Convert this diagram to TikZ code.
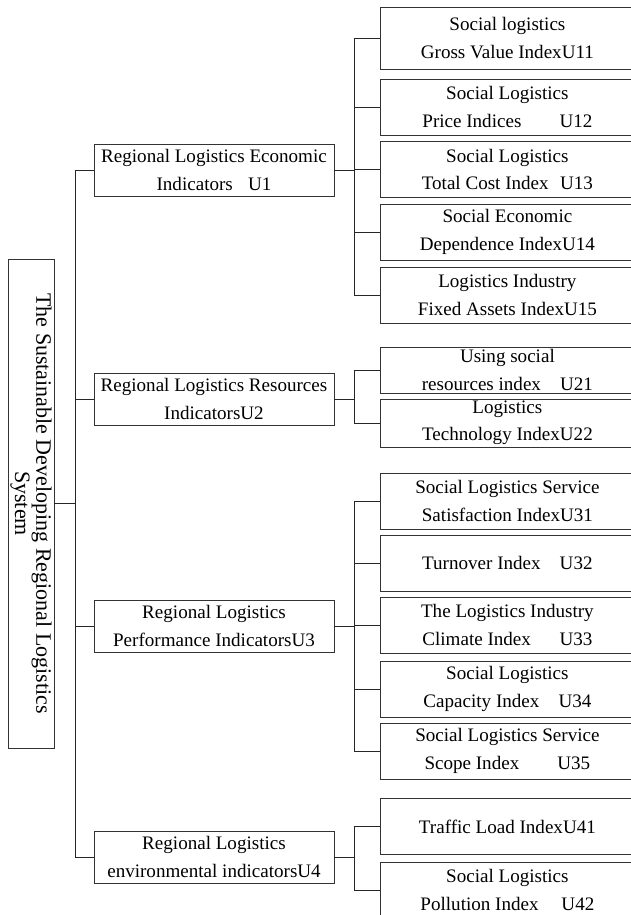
\documentclass[tikz,border=0pt]{standalone}
\usepackage{fontspec}
\setmainfont{Liberation Serif}
\usetikzlibrary{positioning}

\begin{document}
\begin{tikzpicture}[x=0.75pt, y=-0.75pt,
        every node/.style={font=\fontsize{14.3}{20.6}\selectfont, align=center, inner sep=0pt},
        box/.style={draw=black!80, line width=0.6pt},
        sysbox/.style={box, rotate=-90, minimum width=489*0.75pt, minimum height=46*0.75pt,
            font=\fontsize{16.5}{16}\selectfont},
        indbox/.style={box, minimum width=240*0.75pt, minimum height=52*0.75pt},
        leaf/.style={box, anchor=west, minimum width=254*0.75pt, minimum height=56*0.75pt},
        link/.style={draw=black!85, line width=0.6pt}]
        \useasboundingbox (0,0) rectangle (631,915);

        \node[sysbox] (sys) at (31, 503.5) {The Sustainable Developing Regional Logistics\\System};

        \node[indbox] (u1) at (214, 170) {Regional Logistics Economic\\Indicators\hspace{0.8em}U1};
        \node[indbox] (u2) at (214, 399) {Regional Logistics Resources\\IndicatorsU2};
        \node[indbox] (u3) at (214, 626) {Regional Logistics\\Performance IndicatorsU3};
        \node[indbox] (u4) at (214, 857) {Regional Logistics\\environmental indicatorsU4};

        \node[leaf, minimum height=62*0.75pt] (u11) at (380, 38) {Social logistics\\Gross Value IndexU11};
        \node[leaf] (u12) at (380, 107) {Social Logistics\\Price Indices\hspace{2em}U12};
        \node[leaf] (u13) at (380, 169.5) {Social Logistics\\Total Cost Index\hspace{0.6em}U13};
        \node[leaf] (u14) at (380, 232) {Social Economic\\Dependence IndexU14};
        \node[leaf] (u15) at (380, 295) {Logistics Industry\\Fixed Assets IndexU15};

        \node[leaf, minimum height=46*0.75pt] (u21) at (380, 370) {Using social\\resources index\hspace{1em}U21};
        \node[leaf, minimum height=48*0.75pt] (u22) at (380, 423) {Logistics\\Technology IndexU22};

        \node[leaf] (u31) at (380, 501) {Social Logistics Service\\Satisfaction IndexU31};
        \node[leaf] (u32) at (380, 563) {Turnover Index\hspace{1em}U32};
        \node[leaf] (u33) at (380, 625) {The Logistics Industry\\Climate Index\hspace{1.5em}U33};
        \node[leaf] (u34) at (380, 689) {Social Logistics\\Capacity Index\hspace{1em}U34};
        \node[leaf] (u35) at (380, 751) {Social Logistics Service\\Scope Index\hspace{2em}U35};

        \node[leaf] (u41) at (380, 826.5) {Traffic Load IndexU41};
        \node[leaf] (u42) at (380, 890) {Social Logistics\\Pollution Index\hspace{1.2em}U42};

        % root to indicators
        \foreach \k in {u1, u2, u3, u4}
            \draw[link] (sys.north) -- ++(20.5, 0) |- (\k.west);

        % indicators to indices
        \foreach \k in {u11, u12, u13, u14, u15}
            \draw[link] (u1.east) -- ++(20, 0) |- (\k.west);
        \foreach \k in {u21, u22}
            \draw[link] (u2.east) -- ++(20, 0) |- (\k.west);
        \foreach \k in {u31, u32, u33, u34, u35}
            \draw[link] (u3.east) -- ++(20, 0) |- (\k.west);
        \foreach \k in {u41, u42}
            \draw[link] (u4.east) -- ++(20, 0) |- (\k.west);
    \end{tikzpicture}
\end{document}
